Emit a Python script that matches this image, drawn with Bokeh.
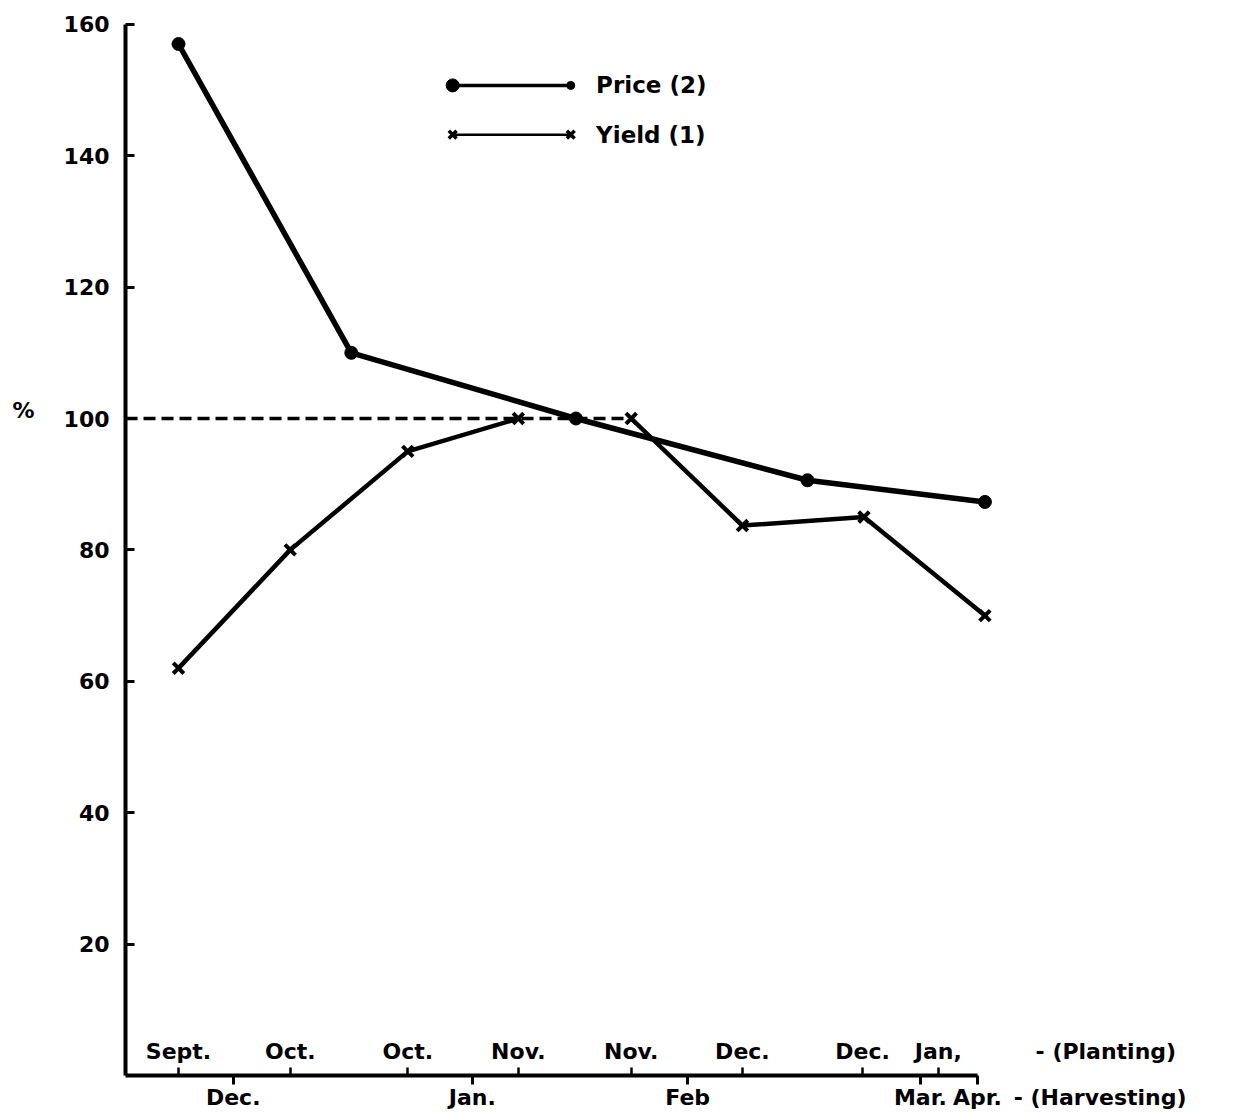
from bokeh.plotting import figure
from bokeh.models import FixedTicker, Range1d
from bokeh.core.properties import value
from bokeh.embed import file_html
from bokeh.resources import INLINE

# ---------------- data ----------------
# x positions in "half-step" units: Sept. planting = 0
price_x = [0.0, 3.0, 6.9, 10.92, 14.0]
price_y = [157, 110, 100, 90.6, 87.3]

yield_x = [0.0, 1.94, 3.98, 5.9, 7.86, 9.79, 11.9, 14.0]
yield_y = [62, 80, 95, 100, 100, 83.7, 85, 70]

planting_ticks = [0.0, 1.94, 3.98, 5.9, 7.86, 9.79, 11.875, 13.19]
planting_labels = ["Sept.", "Oct.", "Oct.", "Nov.", "Nov.", "Dec.", "Dec.", "Jan,"]

harvest_ticks = [0.95, 5.1, 8.84, 12.88, 13.87]
harvest_labels = ["Dec.", "Jan.", "Feb", "Mar.", "Apr."]

y_ticks = [20, 40, 60, 80, 100, 120, 140, 160]
reference_level = 100

series_names = ["Price (2)", "Yield (1)"]
axis_notes = ["- (Planting)", "- (Harvesting)"]
y_unit = "%"

# ---------------- layout ----------------
FONT = "DejaVu Sans"
W, H = 1229, 1112
OX, OY = 178, 1075          # canvas position of data (0, 0)
PX_X, PX_Y = 57.6, 6.57     # pixels per data unit
X_START, X_END = -OX / PX_X, (W - OX) / PX_X
Y_START, Y_END = -(H - OY) / PX_Y, OY / PX_Y
Y_AXIS_AT = -0.92           # data x of the vertical axis
AXIS_END = harvest_ticks[-1]

p = figure(width=W, height=H, output_backend="svg", toolbar_location=None,
           x_range=Range1d(X_START, X_END), y_range=Range1d(Y_START, Y_END),
           min_border=0)
p.grid.visible = False
p.outline_line_color = None
p.background_fill_color = "white"
p.border_fill_color = "white"

# y axis
ya = p.yaxis[0]
ya.fixed_location = Y_AXIS_AT
ya.bounds = (0, 160)
ya.ticker = FixedTicker(ticks=y_ticks)
ya.axis_line_width = 4
ya.major_tick_in = 9
ya.major_tick_out = 0
ya.major_tick_line_width = 3
ya.minor_tick_line_color = None
ya.major_label_standoff = 16
ya.major_label_text_font = FONT
ya.major_label_text_font_style = "bold"
ya.major_label_text_font_size = "22px"
ya.major_label_text_color = "black"

# x axis: harvest months as major ticks (out), planting months as minor ticks (in)
xa = p.xaxis[0]
xa.fixed_location = 0
xa.ticker = FixedTicker(ticks=harvest_ticks, minor_ticks=planting_ticks)
xa.bounds = (Y_AXIS_AT, AXIS_END)
xa.axis_line_width = 4
xa.major_tick_in = 0
xa.major_tick_out = 9
xa.major_tick_line_width = 3
xa.minor_tick_in = 8
xa.minor_tick_out = 0
xa.minor_tick_line_width = 2.5
xa.major_label_overrides = {t: l for t, l in zip(harvest_ticks, harvest_labels)}
xa.major_label_standoff = 0
xa.major_label_text_font = FONT
xa.major_label_text_font_style = "bold"
xa.major_label_text_font_size = "22px"
xa.major_label_text_color = "black"

txt = dict(text_font=value(FONT), text_font_style="bold", text_font_size="22px",
           text_color="black")

# planting labels sit just above the axis line
p.text(x=planting_ticks, y=[0] * len(planting_ticks), text=planting_labels,
       text_align="center", text_baseline="bottom", y_offset=-12, **txt)
p.text(x=[14.88], y=[0], text=[axis_notes[0]],
       text_align="left", text_baseline="bottom", y_offset=-12, **txt)
p.text(x=[14.5], y=[0], text=[axis_notes[1]],
       text_align="left", text_baseline="top", y_offset=9, **txt)
p.text(x=[-2.88], y=[reference_level], text=[y_unit],
       text_align="left", text_baseline="middle", y_offset=-8, **txt)

# dashed 100% reference line, from the axis to the last yield point at 100
last_ref = max(x for x, y in zip(yield_x, yield_y) if y == reference_level)
p.line([Y_AXIS_AT, last_ref], [reference_level, reference_level],
       line_color="black", line_width=3.5, line_dash="12 6")

# yield line: the part lying on the reference level is shown by the dashed line
segs_x, segs_y, cur_x, cur_y = [], [], [yield_x[0]], [yield_y[0]]
for i in range(1, len(yield_x)):
    if yield_y[i] == reference_level and yield_y[i - 1] == reference_level:
        segs_x.append(cur_x); segs_y.append(cur_y)
        cur_x, cur_y = [yield_x[i]], [yield_y[i]]
    else:
        cur_x.append(yield_x[i]); cur_y.append(yield_y[i])
segs_x.append(cur_x); segs_y.append(cur_y)
p.multi_line(segs_x, segs_y, line_color="black", line_width=4.5)
p.scatter(yield_x, yield_y, marker="x", size=15, line_width=4, line_color="black")

# price line
p.line(price_x, price_y, line_color="black", line_width=5.5)
p.scatter(price_x, price_y, marker="circle", size=13, fill_color="black", line_color="black")

# legend (drawn like the original: a line with end markers)
leg_x0, leg_x1, leg_tx = 4.76, 6.81, 7.25
leg_y = [150.7, 143.2]
p.line([leg_x0, leg_x1], [leg_y[0]] * 2, line_color="black", line_width=3.5)
p.scatter([leg_x0], [leg_y[0]], marker="circle", size=13, fill_color="black", line_color="black")
p.scatter([leg_x1], [leg_y[0]], marker="circle", size=8, fill_color="black", line_color="black")
p.line([leg_x0, leg_x1], [leg_y[1]] * 2, line_color="black", line_width=2.5)
p.scatter([leg_x0, leg_x1], [leg_y[1]] * 2, marker="x", size=11, line_width=3.5, line_color="black")
p.text(x=[leg_tx, leg_tx], y=leg_y, text=series_names,
       text_font=value(FONT), text_font_style="bold", text_font_size="23px",
       text_align="left", text_baseline="middle", text_color="black")

open("out.html", "w").write(file_html(p, INLINE))
